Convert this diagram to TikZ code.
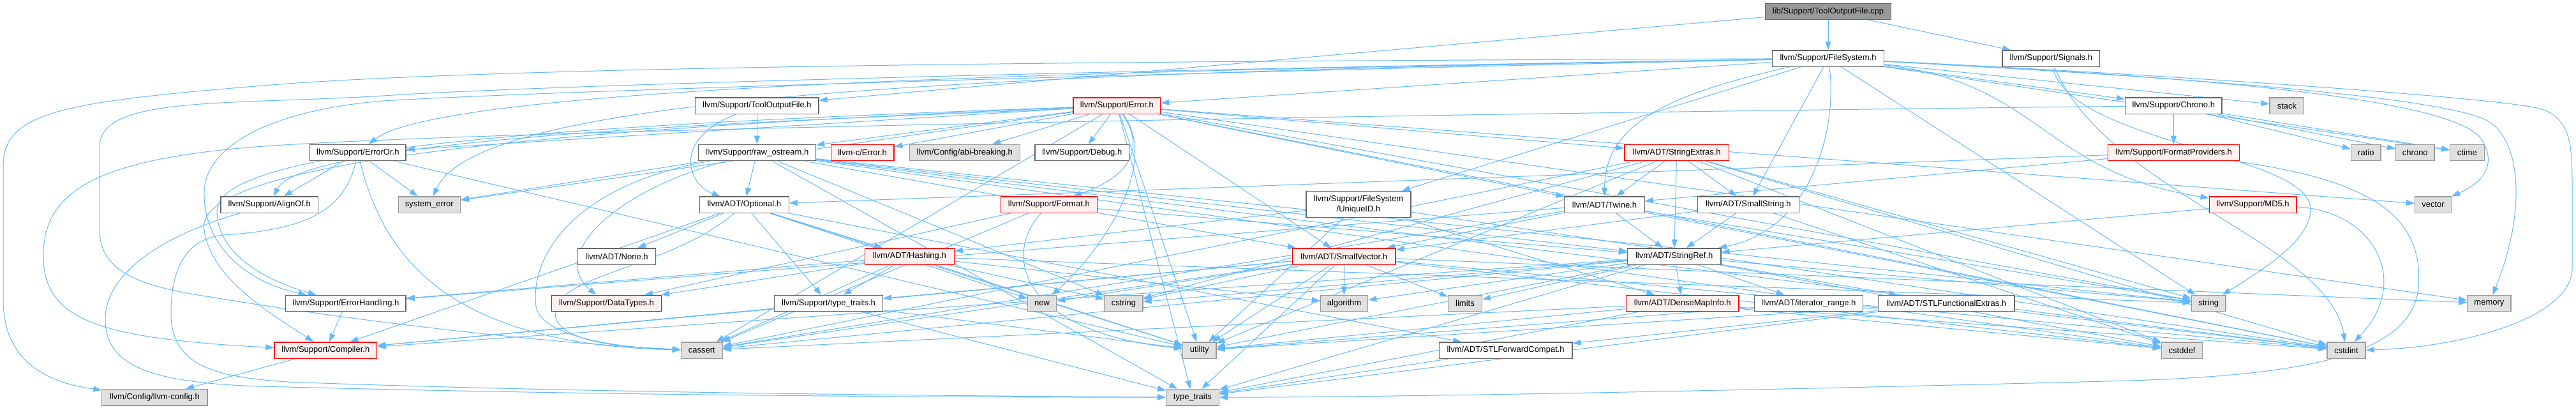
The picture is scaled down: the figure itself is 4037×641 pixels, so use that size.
\documentclass[tikz,border=0pt]{standalone}
\usepackage{fontspec}
\setmainfont{Liberation Sans}
\usetikzlibrary{arrows.meta}
\definecolor{edgeblue}{HTML}{63B8FF}
\definecolor{redfill}{HTML}{FFF0F0}
\definecolor{redline}{HTML}{FF0000}
\definecolor{grayfill}{HTML}{E0E0E0}
\definecolor{grayline}{HTML}{999999}
\definecolor{darkline}{HTML}{666666}
\definecolor{rootfill}{HTML}{999999}
\pgfdeclarelayer{edges}
\pgfsetlayers{edges,main}
\tikzset{
  basebox/.style={rectangle, draw, line width=1.3pt, inner sep=0pt, minimum height=25.3pt,
    font=\fontsize{13}{15}\selectfont, text=black},
  wbox/.style={basebox, draw=darkline, fill=white},
  rbox/.style={basebox, draw=redline, fill=redfill},
  gbox/.style={basebox, draw=grayline, fill=grayfill},
  rootbox/.style={basebox, draw=darkline, fill=rootfill},
  e/.style={draw=edgeblue, line width=1pt, -{Triangle[length=13pt,width=9pt]}, fill=none},
}
\begin{document}
\begin{tikzpicture}[x=1pt,y=-1pt]
\path[use as bounding box] (0,0) rectangle (4037,641);
% row 0
\node[rootbox, minimum width=197pt] (cpp) at (2865,18) {lib/Support/ToolOutputFile.cpp};
% row 1
\node[wbox, minimum width=175.5pt] (fs) at (2865,91.6) {llvm/Support/FileSystem.h};
\node[wbox, minimum width=152.7pt] (sig) at (3214.3,91.6) {llvm/Support/Signals.h};
% row 2
\node[wbox, minimum width=193.3pt] (tof) at (1186.4,165.6) {llvm/Support/ToolOutputFile.h};
\node[rbox, minimum width=136.6pt] (err) at (1750.4,165.6) {llvm/Support/Error.h};
\node[wbox, minimum width=151.3pt] (chr) at (3406.3,165.6) {llvm/Support/Chrono.h};
\node[gbox, minimum width=53.6pt] (stack) at (3583.9,165.6) {stack};
% row 3
\node[wbox, minimum width=150.4pt] (eor) at (560.9,239) {llvm/Support/ErrorOr.h};
\node[wbox, minimum width=184.3pt] (raw) at (1186.4,239) {llvm/Support/raw\_ostream.h};
\node[rbox, minimum width=98.7pt] (cerr) at (1351.6,239) {llvm-c/Error.h};
\node[gbox, minimum width=172.8pt] (abi) at (1511.8,239) {llvm/Config/abi-breaking.h};
\node[wbox, minimum width=147.7pt] (dbg) at (1695.8,239) {llvm/Support/Debug.h};
\node[rbox, minimum width=163.5pt] (sext) at (2627.7,239) {llvm/ADT/StringExtras.h};
\node[rbox, minimum width=205.4pt] (fprov) at (3406.5,239) {llvm/Support/FormatProviders.h};
\node[gbox, minimum width=46.5pt] (ratio) at (3707.8,239) {ratio};
\node[gbox, minimum width=60.6pt] (chrono) at (3784.8,239) {chrono};
\node[gbox, minimum width=53.5pt] (ctime) at (3866.4,239) {ctime};
% row 4
\node[wbox, minimum width=152.6pt] (align) at (422.3,320.5) {llvm/Support/AlignOf.h};
\node[gbox, minimum width=97.3pt] (syserr) at (672.8,320.5) {system\_error};
\node[wbox, minimum width=139.7pt] (opt) at (1166.3,320.5) {llvm/ADT/Optional.h};
\node[rbox, minimum width=150.9pt] (fmt) at (1643.8,320.5) {llvm/Support/Format.h};
\node[wbox, minimum width=164.2pt, minimum height=41pt, align=center,
  font=\fontsize{13}{15.5}\selectfont] (uid) at (2129,320) {llvm/Support/FileSystem\\/UniqueID.h};
\node[wbox, minimum width=125.4pt] (twine) at (2514.5,320.5) {llvm/ADT/Twine.h};
\node[wbox, minimum width=158.9pt] (sstr) at (2739.8,320.5) {llvm/ADT/SmallString.h};
\node[rbox, minimum width=136.7pt] (md5) at (3530.6,320.5) {llvm/Support/MD5.h};
\node[gbox, minimum width=56.8pt] (vector) at (3813,320.5) {vector};
% row 5
\node[wbox, minimum width=122.4pt] (none) at (966.5,401.5) {llvm/ADT/None.h};
\node[rbox, minimum width=139.7pt] (hash) at (1425.3,401.5) {llvm/ADT/Hashing.h};
\node[rbox, minimum width=161.6pt] (svec) at (2106.2,401.5) {llvm/ADT/SmallVector.h};
\node[wbox, minimum width=146.5pt] (sref) at (2623.7,401.5) {llvm/ADT/StringRef.h};
% row 6
\node[wbox, minimum width=188.4pt] (ehand) at (541.9,475) {llvm/Support/ErrorHandling.h};
\node[rbox, minimum width=172.3pt] (dtypes) at (950.5,475) {llvm/Support/DataTypes.h};
\node[wbox, minimum width=170.1pt] (tth) at (1298.5,475) {llvm/Support/type\_traits.h};
\node[gbox, minimum width=45.6pt] (new) at (1633,475) {new};
\node[gbox, minimum width=60.2pt] (cstring) at (1760.9,475) {cstring};
\node[gbox, minimum width=74.5pt] (algo) at (2106.5,475) {algorithm};
\node[gbox, minimum width=52.7pt] (limits) at (2296,475) {limits};
\node[rbox, minimum width=176.4pt] (dmi) at (2636.8,475) {llvm/ADT/DenseMapInfo.h};
\node[wbox, minimum width=170.5pt] (irange) at (2834.4,475) {llvm/ADT/iterator\_range.h};
\node[wbox, minimum width=213.8pt] (stlfx) at (3050.2,475) {llvm/ADT/STLFunctionalExtras.h};
\node[gbox, minimum width=53.6pt] (string) at (3461.2,475) {string};
\node[gbox, minimum width=68.2pt] (memory) at (3900.9,475) {memory};
% row 7
\node[rbox, minimum width=160.7pt] (comp) at (510.3,548.6) {llvm/Support/Compiler.h};
\node[gbox, minimum width=64.7pt] (cassert) at (1099.8,548.6) {cassert};
\node[gbox, minimum width=52.3pt] (utility) at (1879.7,548.6) {utility};
\node[wbox, minimum width=208.5pt] (stlfwd) at (2359.6,548.6) {llvm/ADT/STLForwardCompat.h};
\node[gbox, minimum width=64.4pt] (cstddef) at (3419.6,548.6) {cstddef};
\node[gbox, minimum width=60.1pt] (cstdint) at (3677,548.6) {cstdint};
% row 8
\node[gbox, minimum width=165.2pt] (lcfg) at (242.4,622.2) {llvm/Config/llvm-config.h};
\node[gbox, minimum width=82.6pt] (tt) at (1868.9,622.2) {type\_traits};

\begin{pgfonlayer}{edges}
\foreach \a/\b in {cpp/tof, cpp/fs, cpp/sig,
  fs/sstr, fs/chr, fs/err, fs/uid, fs/ctime, fs/stack, fs/string,
  err/cerr, err/twine, err/abi, err/dbg, err/eor, err/raw, err/sext, err/svec, err/cassert,
  err/cstdint, err/memory, err/string, err/syserr, err/tt, err/utility, err/vector,
  chr/fprov, chr/chrono, chr/ctime, chr/ratio,
  tof/raw,
  eor/align, eor/syserr, eor/utility,
  raw/opt, raw/svec, raw/sref, raw/cstddef, raw/cstdint, raw/cstring, raw/string, raw/syserr, raw/tt,
  sext/sstr, sext/sref, sext/twine, sext/cassert, sext/cstddef, sext/cstdint, sext/cstring, sext/string, sext/utility,
  fprov/opt, fprov/twine,
  opt/hash, opt/none, opt/stlfwd, opt/comp, opt/tth, opt/new, opt/utility,
  fmt/sref, fmt/dtypes, fmt/cassert,
  uid/dmi, uid/hash, uid/cstdint, uid/utility,
  twine/svec, twine/sref, twine/ehand, twine/cassert, twine/cstdint, twine/string,
  sstr/svec, sstr/sref, sstr/cstddef,
  md5/sref,
  hash/dtypes, hash/ehand, hash/tth, hash/algo, hash/cassert, hash/cstring, hash/string, hash/utility,
  svec/comp, svec/tth, svec/algo, svec/cassert, svec/cstddef, svec/cstdint, svec/cstring, svec/limits,
  svec/memory, svec/new, svec/tt, svec/utility,
  sref/dmi, sref/stlfx, sref/irange, sref/comp, sref/algo, sref/cassert, sref/cstddef, sref/cstring,
  sref/limits, sref/string, sref/tt, sref/utility,
  ehand/comp,
  tth/comp, tth/tt, tth/utility,
  dmi/cassert, dmi/cstddef, dmi/cstdint, dmi/tt, dmi/utility,
  irange/utility,
  stlfx/stlfwd, stlfx/cstdint, stlfx/tt, stlfx/utility,
  stlfwd/tt,
  comp/lcfg}
  \draw[e] (\a) -- (\b);
% curved edges
\draw[e] (fs) .. controls (2000,95) and (800,100) .. (400,135) .. controls (100,160) and (5,175) .. (5,260)
  -- (5,470) .. controls (5,570) and (80,600) .. (lcfg);
\draw[e] (fs) .. controls (2000,105) and (900,130) .. (600,150) .. controls (350,165) and (156,150) .. (156,230)
  -- (156,360) .. controls (156,430) and (230,450) .. (330,465) .. controls (600,510) and (900,540) .. (cassert);
\draw[e] (fs) .. controls (2000,110) and (900,140) .. (600,158) .. controls (400,175) and (321,240) .. (320,300)
  .. controls (318,380) and (380,440) .. (ehand);
\draw[e] (fs) .. controls (1800,110) and (700,130) .. (eor);
\draw[e] (fs) .. controls (1500,115) and (750,150) .. (syserr);
\draw[e] (fs) .. controls (2880,200) and (2840,360) .. (sref);
\draw[e] (fs) .. controls (2600,150) and (2515,200) .. (twine);
\draw[e] (fs) .. controls (3200,130) and (3200,270) .. (md5);
\draw[e] (fs) .. controls (3300,112) and (3900,150) .. (3980,170) .. controls (4031,185) and (4031,230) .. (4031,300)
  -- (4031,420) .. controls (4031,500) and (3850,545) .. (cstdint);
\draw[e] (fs) .. controls (3400,120) and (3830,150) .. (3900,190) .. controls (3950,220) and (3960,330) .. (memory);
\draw[e] (fs) .. controls (3400,118) and (3850,150) .. (3890,220) .. controls (3920,270) and (3870,295) .. (vector);
\draw[e] (chr) .. controls (2500,175) and (800,200) .. (400,230) .. controls (150,250) and (68,300) .. (68,400)
  .. controls (68,500) and (150,530) .. (comp);
\draw[e] (err) .. controls (1400,185) and (480,205) .. (align);
\draw[e] (err) .. controls (900,200) and (300,250) .. (320,360) .. controls (330,440) and (440,500) .. (comp);
\draw[e] (err) .. controls (900,195) and (340,230) .. (340,330) .. controls (340,400) and (420,440) .. (ehand);
\draw[e] (err) .. controls (1800,240) and (1760,280) .. (fmt);
\draw[e] (err) .. controls (1820,260) and (1720,400) .. (new);
\draw[e] (raw) .. controls (960,300) and (860,400) .. (dtypes);
\draw[e] (raw) .. controls (900,290) and (830,400) .. (840,480) .. controls (850,530) and (980,545) .. (cassert);
\draw[e] (tof) .. controls (1050,220) and (1080,290) .. (opt);
\draw[e] (opt) .. controls (1050,420) and (870,430) .. (870,490) .. controls (870,540) and (1000,545) .. (cassert);
\draw[e] (eor) .. controls (600,400) and (700,540) .. (cassert);
\draw[e] (eor) .. controls (540,330) and (480,360) .. (350,368) .. controls (280,375) and (268,440) .. (268,490)
  .. controls (268,570) and (330,590) .. (450,598) .. controls (900,615) and (1500,620) .. (tt);
\draw[e] (align) .. controls (250,370) and (165,430) .. (165,500) .. controls (165,580) and (250,603) .. (450,606)
  .. controls (1000,620) and (1500,622) .. (tt);
\draw[e] (fprov) .. controls (3700,280) and (3800,330) .. (3790,450) .. controls (3780,560) and (3600,590) .. (3300,597)
  .. controls (2800,610) and (2200,622) .. (tt);
\draw[e] (fmt) .. controls (1570,400) and (1600,520) .. (utility);
\draw[e] (sig) .. controls (3240,220) and (3600,240) .. (3620,320) .. controls (3630,370) and (3550,420) .. (string);
\draw[e] (sig) .. controls (3300,300) and (3650,380) .. (cstdint);
\draw[e] (md5) .. controls (3720,330) and (3780,440) .. (cstdint);
\end{pgfonlayer}
\end{tikzpicture}
\end{document}
